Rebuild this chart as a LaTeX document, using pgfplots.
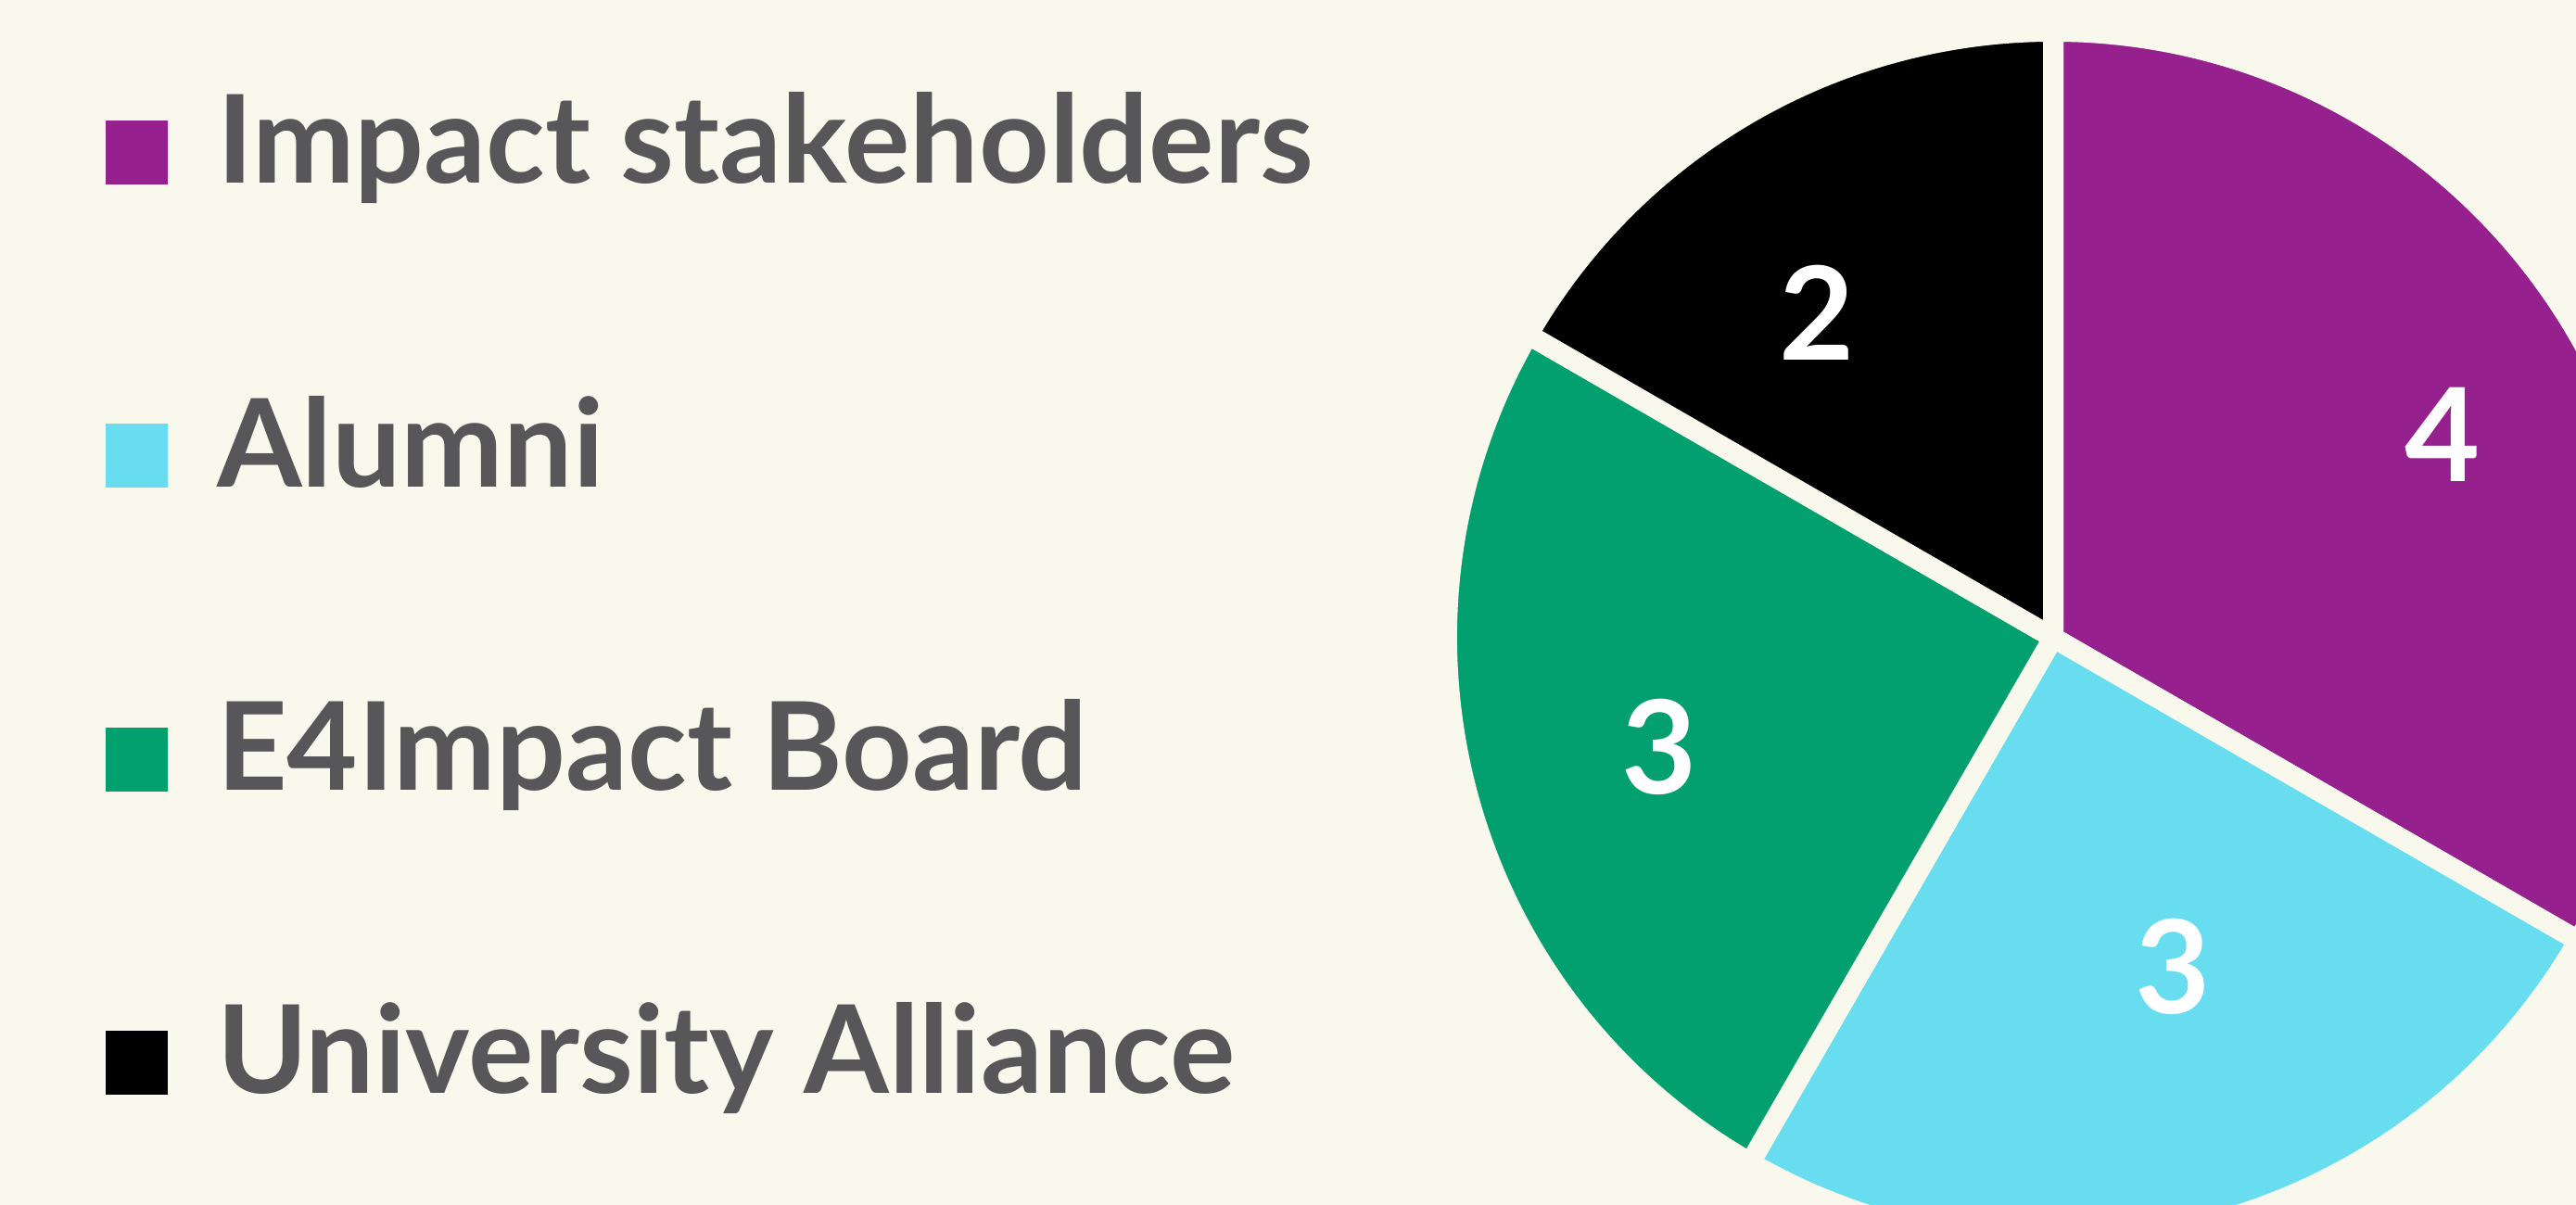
\documentclass[border=0pt]{standalone}
\usepackage{pgfplots}
\usepackage{pgfplotstable}
\pgfplotsset{compat=1.18}
\usepackage{fontspec}
\setmainfont{Lato}
\definecolor{bg}{HTML}{F8F8EC}
\definecolor{cPurple}{HTML}{96208E}
\definecolor{cCyan}{HTML}{68DDF0}
\definecolor{cGreen}{HTML}{03A06F}
\definecolor{cBlack}{HTML}{000000}
\definecolor{txt}{HTML}{57575A}

% value, colour, label radius (px), label angle offset (deg)
\pgfplotstableread[col sep=comma, row sep=\\]{
name,value,col,lr,lo\\
Impact stakeholders,4,cPurple,474,-2.5\\
Alumni,3,cCyan,378,5\\
E4Impact Board,3,cGreen,441,0.5\\
University Alliance,2,cBlack,433,6\\
}\piedata

\def\total{0}
\pgfplotsforeachungrouped \i in {0,...,3}{%
  \pgfplotstablegetelem{\i}{value}\of\piedata
  \pgfmathparse{\total+\pgfplotsretval}\xdef\total{\pgfmathresult}}
\def\cum{0}
\pgfplotsforeachungrouped \i in {0,...,3}{%
  \pgfplotstablegetelem{\i}{value}\of\piedata
  \expandafter\xdef\csname val\i\endcsname{\pgfplotsretval}%
  \pgfmathparse{90-360*\cum/\total}\expandafter\xdef\csname sa\i\endcsname{\pgfmathresult}%
  \pgfmathparse{\cum+\pgfplotsretval}\xdef\cum{\pgfmathresult}%
  \pgfmathparse{90-360*\cum/\total}\expandafter\xdef\csname ea\i\endcsname{\pgfmathresult}%
  \pgfplotstablegetelem{\i}{name}\of\piedata
  \expandafter\xdef\csname nm\i\endcsname{\pgfplotsretval}%
  \pgfplotstablegetelem{\i}{col}\of\piedata
  \colorlet{slice\i}{\pgfplotsretval}%
  \pgfplotstablegetelem{\i}{lr}\of\piedata
  \expandafter\xdef\csname lr\i\endcsname{\pgfplotsretval}%
  \pgfplotstablegetelem{\i}{lo}\of\piedata
  \pgfmathparse{(\csname sa\i\endcsname+\csname ea\i\endcsname)/2+\pgfplotsretval}%
  \expandafter\xdef\csname la\i\endcsname{\pgfmathresult}%
}

\begin{document}
\begin{tikzpicture}
\path[fill=bg, use as bounding box] (0,0) rectangle (277.9pt,130pt);
\begin{axis}[hide axis, scale only axis, width=277.9pt, height=130pt,
  xmin=0, xmax=2779, ymin=0, ymax=1300, clip=false,
  at={(0,0)}, anchor=south west]
\pgfplotsinvokeforeach{0,...,3}{
  \fill[slice#1, draw=bg, line width=2.2pt, line join=round]
    (axis cs:2215,612) --
    (axis cs:{2215+654*cos(\csname sa#1\endcsname)},{612+654*sin(\csname sa#1\endcsname)})
    arc[start angle=\csname sa#1\endcsname, end angle=\csname ea#1\endcsname, radius=65.4pt]
    -- cycle;
}
\pgfplotsinvokeforeach{0,...,3}{
  \node[text=white, inner sep=0pt, font=\fontsize{14}{14}\selectfont\bfseries]
    at (axis cs:{2215+\csname lr#1\endcsname*cos(\csname la#1\endcsname)},{612+\csname lr#1\endcsname*sin(\csname la#1\endcsname)})
    {\csname val#1\endcsname};
  \fill[slice#1] (axis cs:114,{1101-327.3*#1}) rectangle (axis cs:181,{1170-327.3*#1});
  \node[anchor=base west, inner sep=0pt, text=txt, font=\fontsize{13.2}{13.2}\selectfont\bfseries]
    at (axis cs:232,{1102-327.3*#1}) {\csname nm#1\endcsname};
}
\end{axis}
\end{tikzpicture}
\end{document}
